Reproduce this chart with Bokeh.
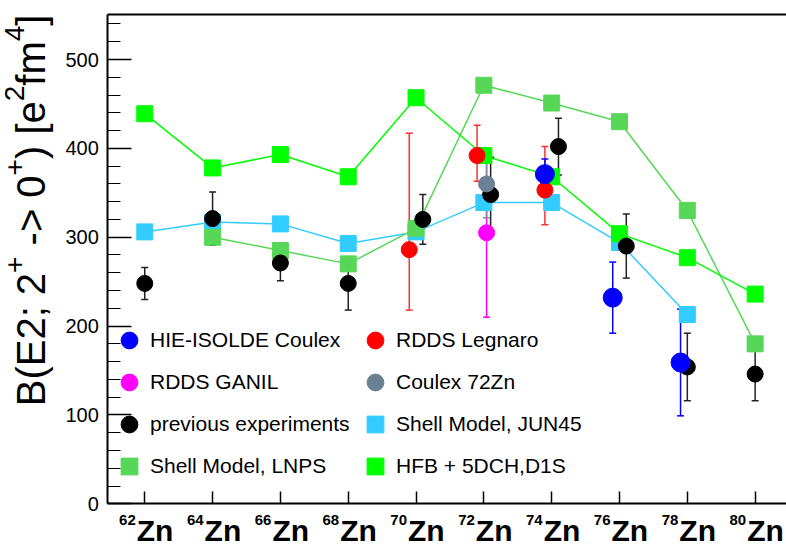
import math
from bokeh.plotting import figure
from bokeh.models import (ColumnDataSource, Whisker, TeeHead, Legend, LegendItem, Range1d,
                          LinearAxis, FixedTicker, Label, LabelSet)
from bokeh.embed import file_html
from bokeh.resources import INLINE
from bokeh.core.properties import value

# ---------------- data ----------------
mass_numbers = [62, 64, 66, 68, 70, 72, 74, 76, 78, 80]
mass_labels = ["62", "64", "66", "68", "70", "72", "74", "76", "78", "80"]
element_labels = ["Zn"] * 10
y_ticks = [0, 100, 200, 300, 400, 500]
y_minor_ticks = list(range(0, 560, 20))

# y-axis title: (text, is_superscript)
y_title_pieces = [("B(E2; 2", False), ("+", True), (" -> 0", False), ("+", True),
                  (") [e", False), ("2", True), ("fm", False), ("4", True), ("]", False)]

hfb_x = [62, 64, 66, 68, 70, 72, 74, 76, 78, 80]
hfb_y = [439, 378, 393, 368, 457, 392, 368, 304, 277, 236]

lnps_x = [64, 66, 68, 70, 72, 74, 76, 78, 80]
lnps_y = [300, 285, 270, 310, 471, 451, 430, 330, 180]

jun45_x = [62, 64, 66, 68, 70, 72, 74, 76, 78]
jun45_y = [306, 317, 315, 293, 306, 339, 339, 294, 213]

prev_x = [62, 64, 66, 68, 70.2, 72.2, 74.2, 76.2, 78.0, 80]
prev_y = [248, 321, 271, 248, 320, 348, 402, 290, 154, 146]
prev_err = [18, 30, 20, 30, 28, 42, 32, 36, 38, 30]

hie_x = [73.8, 75.8, 77.8]
hie_y = [371, 232, 159]
hie_err = [17, 40, 60]

legnaro_x = [69.8, 71.8, 73.8]
legnaro_y = [286, 392, 353]
legnaro_err_up = [131, 34, 49]
legnaro_err_dn = [68, 29, 39]

ganil_x = [72.08]
ganil_y = [305]
ganil_err = [95]

coulex72_x = [72.08]
coulex72_y = [360]
coulex72_err = [38]

# ---------------- styles / layout ----------------
C_HIE = "#0000ff"
C_LEG = "#ff0000"
C_GAN = "#ff00ff"
C_C72 = "#6b8093"
C_PREV = "#000000"
C_JUN = "#33ccff"
C_LNPS = "#57d757"
C_HFB = "#00ff00"
FONT = "Liberation Sans"

W, H = 786, 546
AX_LEFT_PX, AX_BOTTOM_PX = 107.3, 503.3      # where the drawn axes sit
PX_PER_X, PX_PER_Y = 33.91, 0.8886
X0, X1 = 60.91, 81.5          # drawn x-axis extent (data)
Y0, Y1 = 0, 550.6             # drawn y-axis extent (data)

xr_start = X0 - AX_LEFT_PX / PX_PER_X
xr_end = xr_start + W / PX_PER_X
yr_start = Y0 - (H - AX_BOTTOM_PX) / PX_PER_Y
yr_end = yr_start + H / PX_PER_Y

p = figure(width=W, height=H, output_backend="svg", toolbar_location=None,
           x_range=Range1d(xr_start, xr_end), y_range=Range1d(yr_start, yr_end),
           x_axis_type=None, y_axis_type=None,
           min_border_left=0, min_border_right=0, min_border_top=0, min_border_bottom=0)
p.outline_line_color = None
p.background_fill_color = "white"
p.border_fill_color = "white"

# axes (fixed inside the canvas, ROOT style ticks pointing inward)
yax = LinearAxis(ticker=FixedTicker(ticks=y_ticks, minor_ticks=y_minor_ticks),
                 fixed_location=X0, bounds=(Y0, Y1))
yax.major_tick_in = 24
yax.major_tick_out = 0
yax.minor_tick_in = 13
yax.minor_tick_out = 0
yax.axis_line_width = 2
yax.major_tick_line_width = 1.5
yax.minor_tick_line_width = 1.2
yax.major_label_text_font = FONT
yax.major_label_text_font_size = "20px"
yax.major_label_text_color = "black"
yax.major_label_standoff = 9
p.add_layout(yax, "left")

xax = LinearAxis(ticker=FixedTicker(ticks=mass_numbers, minor_ticks=[]),
                 fixed_location=Y0, bounds=(X0, X1))
xax.major_tick_in = 12
xax.major_tick_out = 0
xax.minor_tick_in = 0
xax.minor_tick_out = 0
xax.axis_line_width = 2
xax.major_tick_line_width = 1.5
xax.major_label_overrides = {m: "" for m in mass_numbers}
xax.major_label_standoff = 0
p.add_layout(xax, "below")

tax = LinearAxis(ticker=FixedTicker(ticks=[], minor_ticks=[]),
                 fixed_location=Y1, bounds=(X0, X1))
tax.major_tick_in = 0
tax.major_tick_out = 0
tax.minor_tick_in = 0
tax.minor_tick_out = 0
tax.axis_line_width = 2
tax.major_label_standoff = 0
tax.axis_label_standoff = 0
tax.major_label_text_font_size = "0px"
p.add_layout(tax, "above")

# theory lines
for xs, ys, c in [(jun45_x, jun45_y, C_JUN), (lnps_x, lnps_y, C_LNPS), (hfb_x, hfb_y, C_HFB)]:
    p.line(xs, ys, line_color=c, line_width=1.5)

r_jun = p.scatter(jun45_x, jun45_y, marker="square", size=16, fill_color=C_JUN, line_color=C_JUN)
r_lnps = p.scatter(lnps_x, lnps_y, marker="square", size=16, fill_color=C_LNPS, line_color=C_LNPS)
r_hfb = p.scatter(hfb_x, hfb_y, marker="square", size=16, fill_color=C_HFB, line_color=C_HFB)


def add_err(xs, ys, up, dn, color):
    src = ColumnDataSource(dict(x=xs, upper=[y + u for y, u in zip(ys, up)],
                                lower=[y - d for y, d in zip(ys, dn)]))
    w = Whisker(source=src, base="x", upper="upper", lower="lower", dimension="height",
                line_color=color, line_width=1.5,
                upper_head=TeeHead(size=7, line_color=color, line_width=1.5),
                lower_head=TeeHead(size=7, line_color=color, line_width=1.5))
    p.add_layout(w)


add_err(prev_x, prev_y, prev_err, prev_err, "#222222")
add_err(legnaro_x, legnaro_y, legnaro_err_up, legnaro_err_dn, "#ff3030")
add_err(ganil_x, ganil_y, ganil_err, ganil_err, C_GAN)
add_err(coulex72_x, coulex72_y, coulex72_err, coulex72_err, "#8a8aa8")
add_err(hie_x, hie_y, hie_err, hie_err, C_HIE)

r_prev = p.scatter(prev_x, prev_y, marker="circle", size=16, fill_color=C_PREV, line_color=C_PREV)
r_leg = p.scatter(legnaro_x, legnaro_y, marker="circle", size=16, fill_color=C_LEG, line_color=C_LEG)
r_gan = p.scatter(ganil_x, ganil_y, marker="circle", size=16, fill_color=C_GAN, line_color=C_GAN)
r_c72 = p.scatter(coulex72_x, coulex72_y, marker="circle", size=16, fill_color=C_C72, line_color=C_C72)
r_hie = p.scatter(hie_x, hie_y, marker="circle", size=19, fill_color=C_HIE, line_color=C_HIE)

# legends (two columns)
leg_kw = dict(glyph_width=42, glyph_height=42, spacing=0, label_standoff=0, padding=0, margin=0,
              border_line_color=None, background_fill_alpha=0,
              label_text_font=FONT, label_text_font_size="21px", label_text_color="black")
leg1 = Legend(items=[LegendItem(label="HIE-ISOLDE Coulex", renderers=[r_hie]),
                     LegendItem(label="RDDS GANIL", renderers=[r_gan]),
                     LegendItem(label="previous experiments", renderers=[r_prev]),
                     LegendItem(label="Shell Model, LNPS", renderers=[r_lnps])],
              location=(108, 59), **leg_kw)
leg2 = Legend(items=[LegendItem(label="RDDS Legnaro", renderers=[r_leg]),
                     LegendItem(label="Coulex 72Zn", renderers=[r_c72]),
                     LegendItem(label="Shell Model, JUN45", renderers=[r_jun]),
                     LegendItem(label="HFB + 5DCH,D1S", renderers=[r_hfb])],
              location=(354, 59), **leg_kw)
p.add_layout(leg1)
p.add_layout(leg2)

# x tick labels: mass number (superscript) + element
lab_src = ColumnDataSource(dict(x=mass_numbers, y=[Y0] * len(mass_numbers),
                                num=mass_labels, el=element_labels))
p.add_layout(LabelSet(x="x", y="y", text="el", source=lab_src, x_offset=-8, y_offset=-36.7,
                      text_align="left", text_baseline="alphabetic",
                      text_font=value(FONT), text_font_size="30px", text_font_style="bold",
                      text_color="black"))
p.add_layout(LabelSet(x="x", y="y", text="num", source=lab_src, x_offset=-9, y_offset=-21.5,
                      text_align="right", text_baseline="alphabetic",
                      text_font=value(FONT), text_font_size="15px", text_font_style="bold",
                      text_color="black"))

# y axis title (ROOT/TLatex style: real superscripts, aligned to the top of the axis)
ARIAL_ADV = {"B": 667, "(": 333, "E": 667, "2": 556, ";": 278, " ": 278, "-": 333, ">": 584,
             "0": 556, ")": 333, "[": 278, "e": 556, "f": 278, "m": 833, "]": 278, "+": 584,
             "4": 556}
T_BASE, T_SUP = 40, 28
T_BASELINE_X, T_RAISE = 30, 16


def advance(t, size):
    return sum(ARIAL_ADV.get(c, 556) for c in t) / 1000.0 * size


t_total = sum(advance(t, T_SUP if sup else T_BASE) for t, sup in y_title_pieces)
cum = 0.0
for t, sup in y_title_pieces:
    size = T_SUP if sup else T_BASE
    lead = len(t) - len(t.lstrip(" "))
    start = cum + advance(" " * lead, size)
    p.add_layout(Label(x=X0, y=Y1,
                       x_offset=T_BASELINE_X - (T_RAISE if sup else 0) - AX_LEFT_PX,
                       y_offset=-(t_total - start), angle=math.pi / 2,
                       text=t.strip(" "), text_align="left", text_baseline="alphabetic",
                       text_font=FONT, text_font_size=f"{size}px", text_color="black"))
    cum += advance(t, size)

open("out.html", "w").write(file_html(p, INLINE))
